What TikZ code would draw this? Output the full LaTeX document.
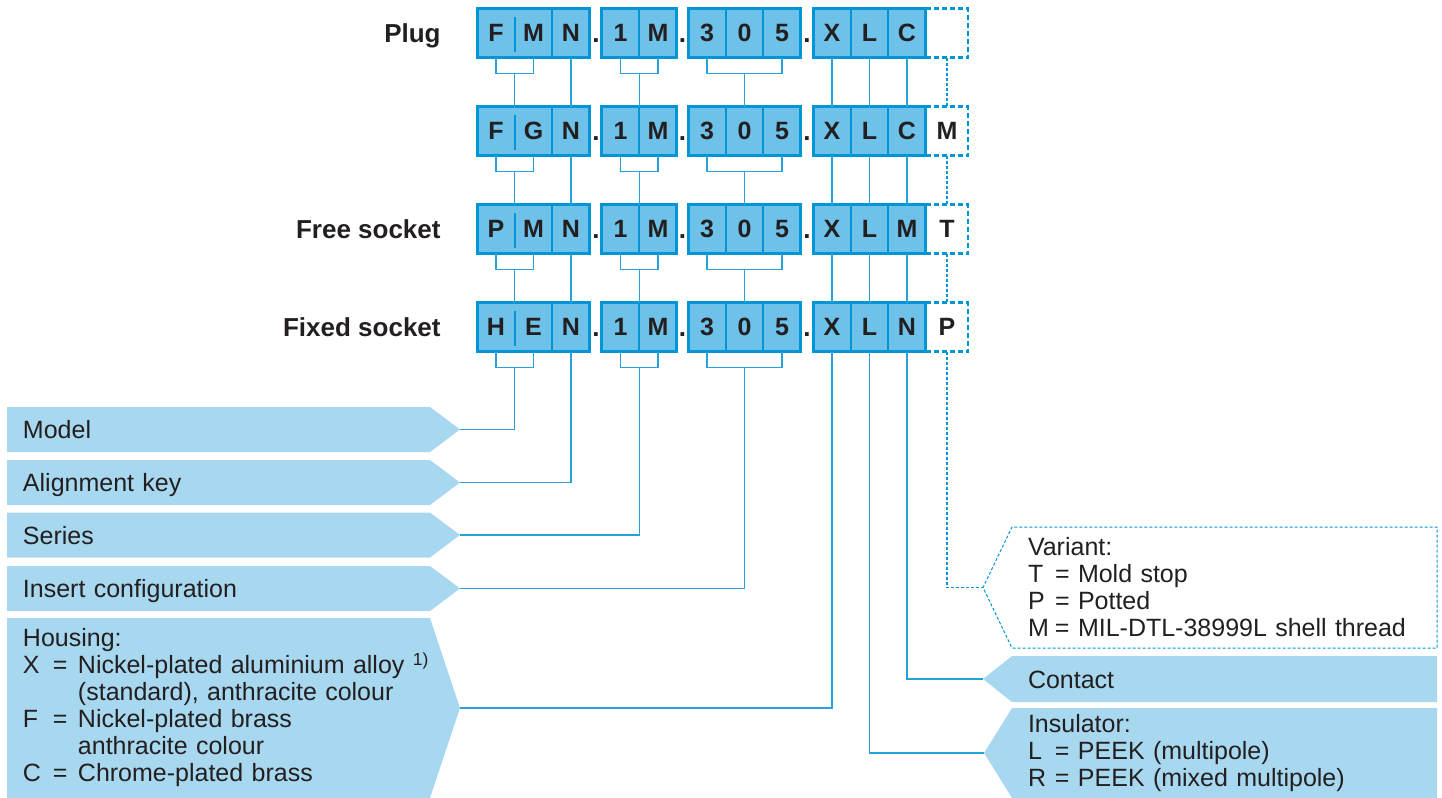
\documentclass[tikz,border=0pt]{standalone}
\usepackage{fontspec}
\setmainfont{Liberation Sans}
\usepackage{tikz}
\usetikzlibrary{shapes.symbols}
\definecolor{codefill}{RGB}{110,193,233}
\definecolor{codeline}{RGB}{0,150,214}
\definecolor{labfill}{RGB}{168,216,240}
\definecolor{linkblue}{RGB}{40,160,218}
\definecolor{ink}{RGB}{35,31,32}
\newcommand{\lkey}[1]{\makebox[27.5pt][l]{\makebox[15pt][l]{#1}=}}
\newcommand{\rkey}[1]{\makebox[25pt][l]{\makebox[13.5pt][l]{#1}=}}
\tikzset{
  txt/.style     ={font=\fontsize{12.5}{13.5}\selectfont,text=ink},
  cell/.style    ={rectangle,fill=codefill,draw=codeline,line width=1pt,outer sep=0pt,
                   minimum width=18.75pt,minimum height=24.5pt,inner sep=0pt,
                   font=\fontsize{12.5}{13.5}\selectfont\bfseries,text=ink},
  pair/.style    ={cell,draw=none},
  opt/.style     ={cell,fill=none,draw=none,minimum width=21pt},
  grpframe/.style={draw=codeline,line width=1.5pt},
  divider/.style ={draw=codeline,line width=1pt},
  optedge/.style ={draw=codeline,line width=1.4pt,dash pattern=on 2.5pt off 1.5pt},
  dotsep/.style  ={font=\fontsize{13}{14}\selectfont\bfseries,text=ink,anchor=base,inner sep=0pt},
  rowname/.style ={font=\fontsize{13}{14}\selectfont\bfseries,text=ink,anchor=base east,inner sep=0pt},
  link/.style    ={draw=linkblue,line width=0.6pt},
  optlink/.style ={draw=codeline,line width=0.6pt,dash pattern=on 1.5pt off 1pt},
  tag/.style     ={signal,fill=labfill,txt,align=left,inner xsep=8pt,inner ysep=2pt,outer sep=0pt},
  ltag/.style    ={tag,signal to=east,anchor=west,text width=195.5pt},
  rtag/.style    ={tag,signal to=west,anchor=east,text width=196.5pt},
  oneline/.style ={text height=9pt,text depth=0pt},
}

\begin{document}
\begin{tikzpicture}[x=0.5pt,y=-0.5pt]
  \useasboundingbox (0,0) rectangle (1442,798);
  % code rows
  \foreach \r/\y/\a/\b/\m/\v in {1/33/F/M/C/{},2/131/F/G/C/M,3/229/P/M/M/T,4/327/H/E/N/P}{
     \node[pair] (\r-1) at (496,\y) {\a};
     \node[pair] (\r-2) at (533.5,\y) {\b};
     \node[cell] (\r-3) at (571,\y) {N};
     \node[dotsep] (\r-d1) at (596,\y+9) {.};
     \node[cell] (\r-4) at (620.5,\y) {1};
     \node[cell] (\r-5) at (658,\y) {M};
     \node[dotsep] (\r-d2) at (682.5,\y+9) {.};
     \node[cell] (\r-6) at (707,\y) {3};
     \node[cell] (\r-7) at (744.5,\y) {0};
     \node[cell] (\r-8) at (782,\y) {5};
     \node[dotsep] (\r-d3) at (807,\y+9) {.};
     \node[cell] (\r-9) at (832,\y) {X};
     \node[cell] (\r-10) at (869.5,\y) {L};
     \node[cell] (\r-11) at (907,\y) {\m};
     \node[opt] (\r-12) at (947,\y) {\v};
     \draw[divider] ([yshift=-4pt]\r-1.north east) -- ([yshift=3pt]\r-1.south east);
     \draw[grpframe] (\r-1.north west) rectangle (\r-3.south east);
     \draw[grpframe] (\r-4.north west) rectangle (\r-5.south east);
     \draw[grpframe] (\r-6.north west) rectangle (\r-8.south east);
     \draw[grpframe] (\r-9.north west) rectangle (\r-11.south east);
     \draw[optedge] (\r-12.north west) -- (\r-12.north east) -- (\r-12.south east) -- (\r-12.south west);
     % brackets under the row
     \draw[link] (\r-1.south) -- ++(0,16) -| (\r-2.south);
     \draw[link] (\r-4.south) -- ++(0,16) -| (\r-5.south);
     \draw[link] (\r-6.south) -- ++(0,16) -| (\r-8.south);
  }
  \node[rowname] (plug) at (441,42) {Plug};
  \node[rowname] (free) at (441,238) {Free socket};
  \node[rowname] (fixed) at (441,336) {Fixed socket};

  % links between rows
  \foreach \r/\n in {1/2,2/3,3/4}{
     \draw[link] (\r-1.south east) ++(0,16) -- (\n-1.north east);
     \draw[link] (\r-3.south) -- (\n-3.north);
     \draw[link] (\r-4.south east) ++(0,16) -- (\n-4.north east);
     \draw[link] (\r-7.south) ++(0,16) -- (\n-7.north);
     \draw[link] (\r-9.south) -- (\n-9.north);
     \draw[link] (\r-10.south) -- (\n-10.north);
     \draw[link] (\r-11.south) -- (\n-11.north);
     \draw[optlink] (\r-12.south) -- (\n-12.north);
  }

  % left tags
  \node[ltag,oneline,minimum height=22.5pt,signal pointer angle=73.7] (model) at (7,429.5) {Model};
  \node[ltag,oneline,minimum height=22.5pt,signal pointer angle=73.7] (align) at (7,482.5) {Alignment key};
  \node[ltag,oneline,minimum height=22.5pt,signal pointer angle=73.7] (series) at (7,535) {Series};
  \node[ltag,oneline,minimum height=22.5pt,signal pointer angle=73.7] (insert) at (7,588.5) {Insert configuration};
  \node[ltag,minimum height=90pt,signal pointer angle=143.1] (housing) at (7,708)
     {Housing:\\
      \lkey{X}Nickel-plated aluminium alloy\rlap{\ \textsuperscript{1)}}\\
      \hspace*{27.5pt}(standard), anthracite colour\\
      \lkey{F}Nickel-plated brass\\
      \hspace*{27.5pt}anthracite colour\\
      \lkey{C}Chrome-plated brass};

  % right tags
  \node[rtag,fill=none,draw=codeline,line width=0.5pt,dash pattern=on 1.5pt off 1pt,
        minimum height=60.5pt,signal pointer angle=128.8] (variant) at (1437,587.5)
     {Variant:\\
      \rkey{T}Mold stop\\
      \rkey{P}Potted\\
      \rkey{M}MIL-DTL-38999L shell thread};
  \node[rtag,oneline,minimum height=23pt,signal pointer angle=76.9] (contact) at (1437,679) {Contact};
  \node[rtag,minimum height=45pt,signal pointer angle=116.3] (insul) at (1437,753)
     {Insulator:\\
      \rkey{L}PEEK (multipole)\\
      \rkey{R}PEEK (mixed multipole)};

  % links to the tags
  \draw[link] (4-1.south east) ++(0,16) |- (model.east);
  \draw[link] (4-3.south) |- (align.east);
  \draw[link] (4-4.south east) ++(0,16) |- (series.east);
  \draw[link] (4-7.south) ++(0,16) |- (insert.east);
  \draw[link] (4-9.south) |- (housing.east);
  \draw[link] (4-10.south) |- (insul.west);
  \draw[link] (4-11.south) |- (contact.west);
  \draw[optlink] (4-12.south) |- (variant.west);
\end{tikzpicture}
\end{document}
